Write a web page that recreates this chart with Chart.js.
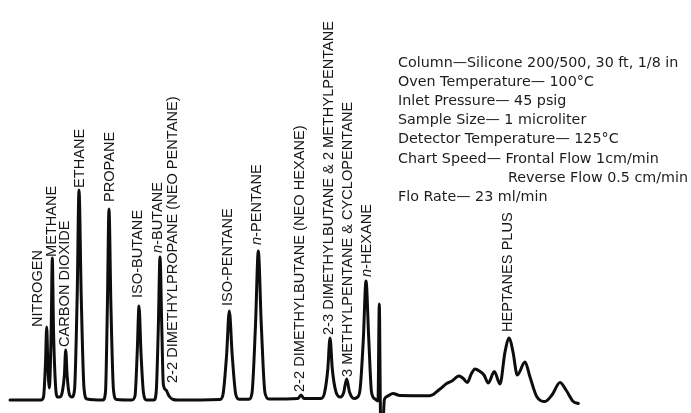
<!DOCTYPE html>
<html>
<head>
<meta charset="utf-8">
<script src="https://cdn.jsdelivr.net/npm/chart.js"></script>
<style>
  html, body { margin: 0; padding: 0; background: #ffffff; }
  #wrap { position: relative; width: 691px; height: 413px; overflow: hidden; }
  canvas { display: block; }
</style>
</head>
<body>
<div id="wrap"><canvas id="c" width="691" height="413"></canvas></div>
<script>
// Chart distance (mm from start) and detector response (mm deflection)
const traceX = [0,31,33.5,35.5,36.7,37.8,39.3,41.2,42.3,43.5,45.5,47.5,50,52.3,54.4,55.7,57.1,59.5,62,64.5,
  67.2,69,71.2,74,77,93,95.5,97.4,99,100.9,103.5,106.5,122,125,127.2,129,131,133.5,136.5,144,
  146.2,148.3,150,151.8,153.3,156,159,163,168,210,213,216.6,219.3,222.2,225.8,229,239,242,245.5,248.3,
  251.3,255,259,288,291,294,311,314.5,317.8,320,322.3,326,330.5,333.5,336.7,339.5,344,347,350,353.3,
  356,358.8,361.5,365,368,369.3,370.3,370.7,372.7,374.3,377,383,390,420,430,436.7,442,449,453.3,457.3,
  461.5,465,470,474,478.3,484.3,490,495,499.3,503,507.3,515,520,526.7,535,542,550,556,563.3,568.3];
const traceY = [0,0,3,37,73,37,12,71,142,71,15,3,3,8,25,50,25,5,3,10,
  105,210,105,12,1,0,8,95,191,95,10,0.5,0,4,47,94,47,7,0,0,
  8,72,143,72,16,10,4,0.5,0,0.5,5.5,45,89,45,5.5,0.8,0.8,7,75,149,
  75,7,1,1.5,5,1.5,1.5,7,31,62,31,8,3,7,21,8,1.5,2.5,10,60,
  119,60,8,1,-1,96,0,-30,-30,0,3.5,6.5,4.5,4.3,11,16.5,19,24,21.5,17.5,
  26.5,31,28.5,25,17,28.5,16,48,62,48,25,38,23,3.5,-1.5,5,17.5,10,-1.5,-3.5];

// Peak labels: text, position (chart mm) and response level where each label starts
const peakNames = ["NITROGEN","METHANE","CARBON DIOXIDE","ETHANE","PROPANE","ISO-BUTANE","n-BUTANE",
  "2-2 DIMETHYLPROPANE (NEO PENTANE)","ISO-PENTANE","n-PENTANE","2-2 DIMETHYLBUTANE (NEO HEXANE)",
  "2-3 DIMETHYLBUTANE & 2 METHYLPENTANE","3 METHYLPENTANE & CYCLOPENTANE","n-HEXANE","HEPTANES PLUS"];
const peakLabelX = [27.5,42.3,55,70,100,128,147.5,163,218,247,290,318.5,337.5,357,497.5];
const peakLabelY = [73,143,53,212,198,102,147,17,94,155,8,65,23,123,68];

// Operating conditions
const conditions = [
  "Column\u2014Silicone 200/500, 30 ft, 1/8 in",
  "Oven Temperature\u2014 100\u00B0C",
  "Inlet Pressure\u2014 45 psig",
  "Sample Size\u2014 1 microliter",
  "Detector Temperature\u2014 125\u00B0C",
  "Chart Speed\u2014 Frontal Flow 1cm/min",
  "Reverse Flow 0.5 cm/min",
  "Flo Rate\u2014 23 ml/min"
];
const conditionIndent = [0,0,0,0,0,0,110,0];

const points = traceX.map((x, i) => ({ x: x, y: traceY[i] }));

const labelPlugin = {
  id: 'peakLabels',
  afterDatasetsDraw(chart) {
    const ctx = chart.ctx;
    const xs = chart.scales.x, ys = chart.scales.y;
    const sz = 14.6;
    const normal = sz + 'px "Liberation Sans", Arial, sans-serif';
    const italic = 'italic ' + sz + 'px "Liberation Sans", Arial, sans-serif';
    ctx.save();
    ctx.fillStyle = '#161616';
    ctx.textBaseline = 'middle';
    ctx.textAlign = 'left';
    peakNames.forEach((name, i) => {
      const px = xs.getPixelForValue(peakLabelX[i]);
      const py = ys.getPixelForValue(peakLabelY[i]);
      ctx.save();
      ctx.translate(px, py);
      ctx.rotate(-Math.PI / 2);
      if (name.startsWith('n-')) {
        ctx.font = italic;
        ctx.fillText('n', 0, 0);
        const w = ctx.measureText('n').width;
        ctx.font = normal;
        ctx.fillText(name.slice(1), w, 0);
      } else {
        ctx.font = normal;
        ctx.fillText(name, 0, 0);
      }
      ctx.restore();
    });
    // conditions block
    ctx.font = '14.3px "DejaVu Sans", Verdana, sans-serif';
    ctx.textBaseline = 'alphabetic';
    ctx.fillStyle = '#1c1c1c';
    conditions.forEach((t, i) => {
      ctx.fillText(t, 398 + conditionIndent[i], 67 + i * 19.1);
    });
    ctx.restore();
  }
};

new Chart(document.getElementById('c'), {
  type: 'line',
  data: {
    datasets: [{
      data: points,
      borderColor: '#0d0d0d',
      borderWidth: 3,
      pointRadius: 0,
      fill: false,
      cubicInterpolationMode: 'monotone',
      borderJoinStyle: 'round',
      borderCapStyle: 'round'
    }]
  },
  options: {
    responsive: false,
    animation: false,
    layout: { padding: 0 },
    plugins: { legend: { display: false }, tooltip: { enabled: false }, title: { display: false } },
    scales: {
      x: { type: 'linear', min: -10, max: 681, display: false },
      y: { type: 'linear', min: -13, max: 400, display: false }
    }
  },
  plugins: [labelPlugin]
});
</script>
</body>
</html>
